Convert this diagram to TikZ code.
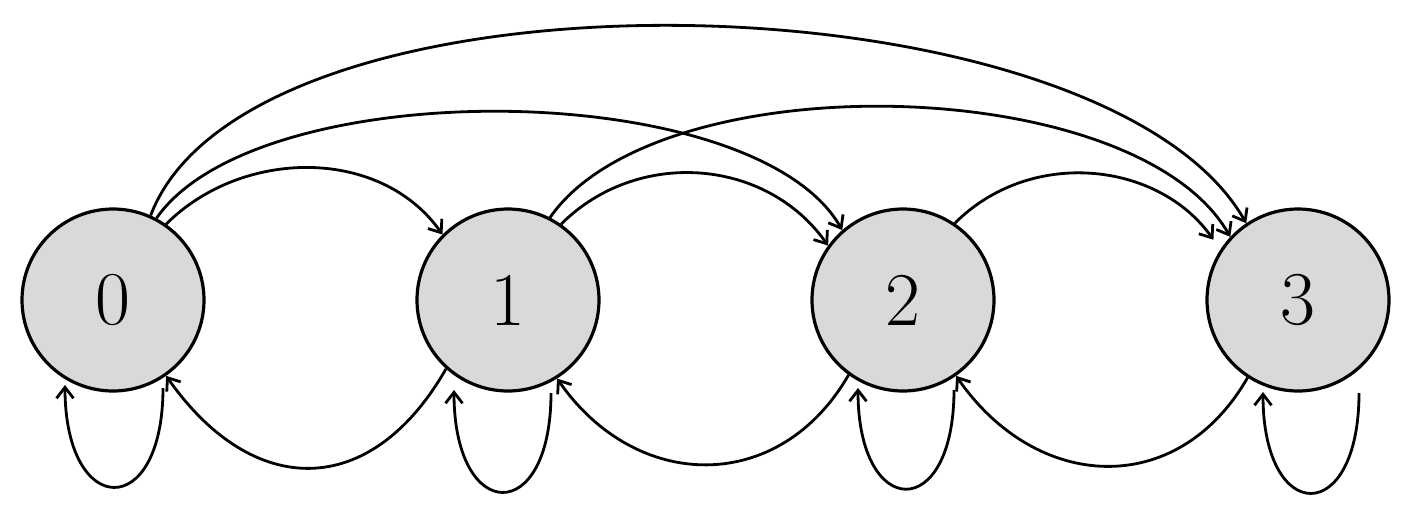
\documentclass[tikz,border=0pt]{standalone}
\usetikzlibrary{arrows.meta,calc}
\definecolor{nodefill}{RGB}{217,217,217}
\begin{document}
\begin{tikzpicture}[x=0.5pt,y=-0.5pt,
  state/.style={circle,draw,line width=1.6pt,fill=nodefill,minimum size=91pt,inner sep=0pt,
    font=\fontsize{38}{40}\selectfont},
  edge/.style={line width=1.4pt,-{Straight Barb[length=5.5pt,width=8.5pt,line width=1.4pt]}}]
\useasboundingbox (0,0) rectangle (1410,516);
\node[state] (n0) at (113,300) {0};
\node[state] (n1) at (508,300) {1};
\node[state] (n2) at (903,300) {2};
\node[state] (n3) at (1298,300) {3};
% forward arcs (top)
\draw[edge] (n0.55) .. controls +(76,-76) and +(-62,-88) .. (n1.135);
\draw[edge] (n0.62) .. controls +(101,-146) and +(-88,-154) .. (n2.131);
\draw[edge] (n0.66) .. controls +(100,-263) and +(-144,-253) .. (n3.124);
\draw[edge] (n1.55) .. controls +(76,-76) and +(-62,-88) .. (n2.144);
\draw[edge] (n1.63) .. controls +(108,-156) and +(-94,-165) .. (n3.137);
\draw[edge,shorten >=6pt] (n2.56) .. controls +(76,-76) and +(-62,-88) .. (n3.147);
% backward arcs (bottom)
\draw[edge] (n1.228) .. controls +(-75,131) and +(87,124) .. (n0.305);
\draw[edge] (n2.234) .. controls +(-69,120) and +(79,114) .. (n1.302);
\draw[edge] (n3.237) .. controls +(-70,122) and +(80,116) .. (n2.305);
% self loops
\draw[edge] ($(n0)+(50,88)$) .. controls +(0,134) and +(0,134) .. ($(n0)+(-48,85)$);
\draw[edge] ($(n1)+(43,93)$) .. controls +(0,134) and +(0,134) .. ($(n1)+(-54,90)$);
\draw[edge] ($(n2)+(51,90)$) .. controls +(0,133) and +(0,133) .. ($(n2)+(-45,88)$);
\draw[edge] ($(n3)+(61,93)$) .. controls +(0,134) and +(0,134) .. ($(n3)+(-35,92)$);
\end{tikzpicture}
\end{document}
